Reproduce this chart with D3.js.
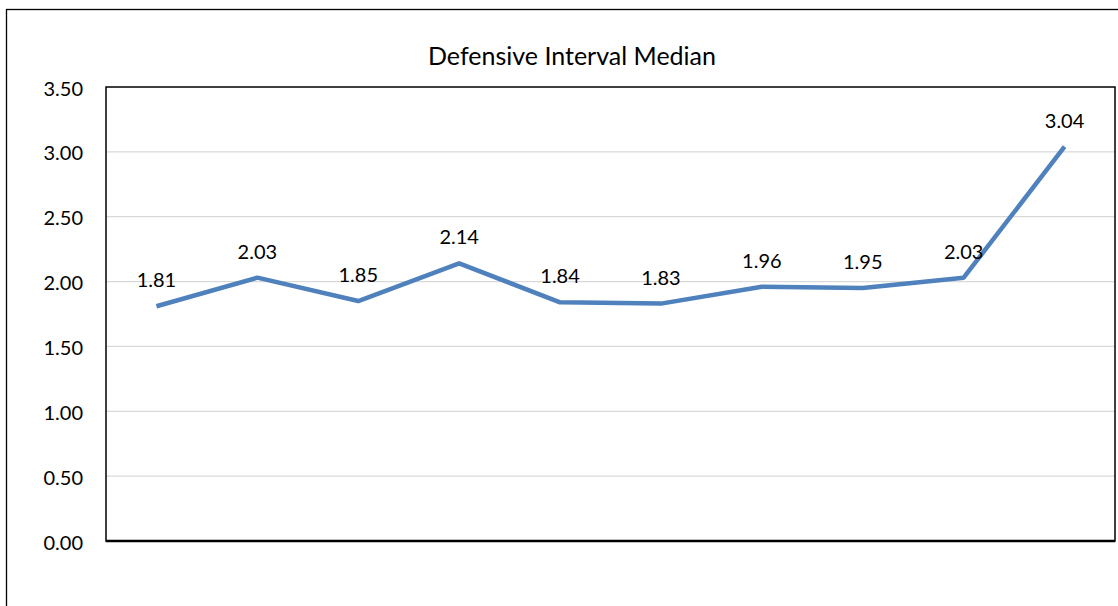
<!DOCTYPE html>
<html>
<head>
<meta charset="utf-8">
<script src="https://cdn.jsdelivr.net/npm/d3@7"></script>
<style>
  body { margin: 0; background: #fff; }
  text { font-family: Lato, "Open Sans", sans-serif; fill: #000; }
</style>
</head>
<body>
<script>
var categories = ["1", "2", "3", "4", "5", "6", "7", "8", "9", "10"];
var medians = [1.81, 2.03, 1.85, 2.14, 1.84, 1.83, 1.96, 1.95, 2.03, 3.04];
var yTicks = [0, 0.5, 1, 1.5, 2, 2.5, 3, 3.5];
var title = "Defensive Interval Median";

var margin = {top: 87, right: 3, bottom: 65, left: 106};
var width = 1118 - margin.left - margin.right;
var height = 606 - margin.top - margin.bottom;

var svg = d3.select("body").append("svg")
    .attr("width", 1118)
    .attr("height", 606);

// outer chart frame
svg.append("rect")
    .attr("x", 6.5)
    .attr("y", 9.5)
    .attr("width", 1130)
    .attr("height", 620)
    .attr("fill", "none")
    .attr("stroke", "#000")
    .attr("stroke-width", 1.3);

svg.append("text")
    .attr("x", 572)
    .attr("y", 65)
    .attr("font-size", "25px")
    .style("text-anchor", "middle")
    .text(title);

var g = svg.append("g")
    .attr("transform", "translate(" + margin.left + "," + margin.top + ")");

var xScale = d3.scaleBand().domain(categories).range([0, width]);
var yScale = d3.scaleLinear().domain([0, 3.5]).range([height, 0]);

// gridlines
g.selectAll(".grid")
    .data(yTicks.filter(function(d) { return d > 0 && d < 3.5; }))
    .enter().append("line")
    .attr("x1", 0)
    .attr("x2", width)
    .attr("y1", function(d) { return yScale(d); })
    .attr("y2", function(d) { return yScale(d); })
    .attr("stroke", "#d9d9d9")
    .attr("stroke-width", 1.3);

var y_axis = d3.axisLeft(yScale)
    .tickValues(yTicks)
    .tickSize(0)
    .tickPadding(23)
    .tickFormat(d3.format(".2f"));

var ax = g.append("g").call(y_axis);
ax.select(".domain").remove();
ax.selectAll("text")
    .attr("font-size", "20px")
    .attr("dy", "0.4em")
    .style("font-family", "Lato, 'Open Sans', sans-serif");

// plot frame
g.append("rect")
    .attr("x", 0)
    .attr("y", 0)
    .attr("width", width)
    .attr("height", height)
    .attr("fill", "none")
    .attr("stroke", "#000")
    .attr("stroke-width", 1.5);
g.append("line")
    .attr("x1", 0).attr("x2", width)
    .attr("y1", height).attr("y2", height)
    .attr("stroke", "#000")
    .attr("stroke-width", 2.5);

var line = d3.line()
    .x(function(d, i) { return xScale(categories[i]) + xScale.bandwidth() / 2; })
    .y(function(d) { return yScale(d); });

g.append("path")
    .datum(medians)
    .attr("d", line)
    .attr("fill", "none")
    .attr("stroke", "#4f81bd")
    .attr("stroke-width", 4.5)
    .attr("stroke-linejoin", "round");

g.selectAll(".lbl")
    .data(medians)
    .enter().append("text")
    .attr("x", function(d, i) { return xScale(categories[i]) + xScale.bandwidth() / 2; })
    .attr("y", function(d) { return yScale(d) - 19; })
    .attr("font-size", "20px")
    .style("text-anchor", "middle")
    .text(function(d) { return d.toFixed(2); });
</script>
</body>
</html>
